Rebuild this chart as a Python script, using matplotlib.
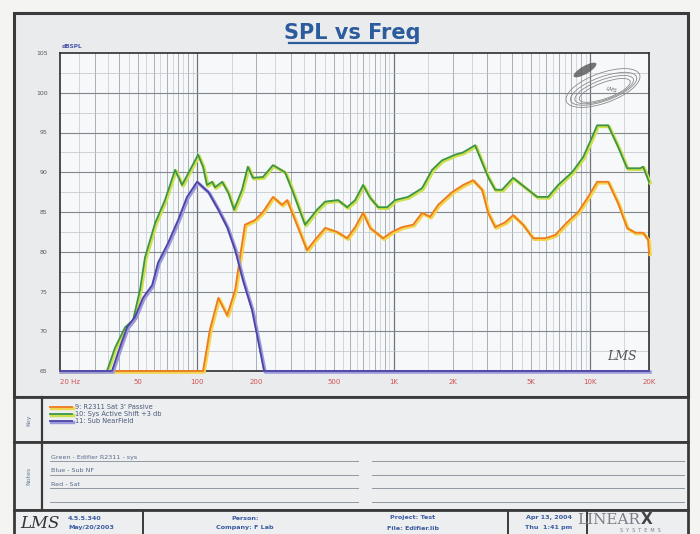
import numpy as np
import matplotlib.pyplot as plt
import matplotlib.patheffects as pe
from matplotlib.patches import Rectangle, Ellipse

# ---- data (Hz, dBSPL) ----
sat_freq = [20, 107, 116, 128, 142, 156, 165, 175, 197, 216, 243, 270, 287, 322, 362,
            398, 448, 515, 580, 637, 699, 759, 884, 982, 1105, 1257, 1397, 1534, 1686,
            1986, 2260, 2540, 2824, 3030, 3289, 3698, 4062, 4567, 5136, 5911, 6648,
            7651, 8708, 9790, 10880, 12380, 13920, 15470, 16990, 18660, 19790, 20000]
sat_db = [65, 65, 70.2, 74.2, 72.0, 75.2, 79.3, 83.4, 84.0, 85.0, 86.9, 85.9, 86.5, 83.4,
          80.2, 81.5, 83.0, 82.5, 81.7, 83.1, 84.9, 83.0, 81.7, 82.5, 83.1, 83.4, 84.9,
          84.4, 85.9, 87.5, 88.4, 89.0, 87.8, 84.9, 83.1, 83.7, 84.6, 83.4, 81.7, 81.7,
          82.1, 83.7, 85.0, 86.9, 88.8, 88.8, 86.1, 83.0, 82.4, 82.4, 81.5, 79.8]

sys_freq = [20, 34.7, 38.1, 42.9, 47.1, 51.1, 54.2, 61.0, 68.5, 77.1, 83.7, 91.9, 101,
            107, 112, 119, 123, 134, 144, 154, 169, 181, 192, 216, 243, 280, 304, 354,
            408, 448, 521, 580, 637, 699, 759, 834, 927, 1018, 1185, 1397, 1571, 1766,
            2057, 2260, 2601, 3030, 3289, 3570, 4062, 4675, 5383, 6124, 6887, 8117,
            9234, 10260, 10880, 12380, 13920, 15470, 18020, 18660, 20000]
sys_db = [65, 65, 67.9, 70.5, 71.4, 75.2, 79.3, 83.6, 86.5, 90.3, 88.4, 90.3, 92.2,
          90.7, 88.4, 88.8, 88.1, 88.8, 87.4, 85.3, 87.8, 90.7, 89.3, 89.4, 90.9, 90.0,
          87.8, 83.4, 85.3, 86.3, 86.5, 85.6, 86.5, 88.4, 86.8, 85.6, 85.6, 86.5, 86.9,
          88.0, 90.3, 91.5, 92.2, 92.5, 93.4, 89.4, 87.8, 87.8, 89.3, 88.1, 86.9, 86.9,
          88.4, 90.0, 91.9, 94.4, 95.9, 95.9, 93.2, 90.5, 90.5, 90.7, 88.8]

sub_freq = [20, 36.8, 39.5, 43.9, 48.2, 52.9, 58.9, 63.1, 71.0, 79.9, 88.7, 99.8, 114,
            128, 142, 156, 171, 190, 204, 219, 20000]
sub_db = [65, 65, 67.3, 70.5, 71.8, 74.2, 75.8, 78.6, 81.1, 84.0, 86.9, 88.8, 87.5,
          85.3, 83.1, 80.2, 76.4, 72.7, 68.9, 65, 65]

series = [
    ("9: R2311 Sat 3' Passive", sat_freq, sat_db, '#ee7a22', '#f2d54c'),
    ("10: Sys Active Shift +3 db", sys_freq, sys_db, '#3c9548', '#cfe04e'),
    ("11: Sub NearField", sub_freq, sub_db, '#4d45a6', '#9c98dc'),
]

x_ticks = [20, 50, 100, 200, 500, 1000, 2000, 5000, 10000, 20000]
x_labels = ['20 Hz', '50', '100', '200', '500', '1K', '2K', '5K', '10K', '20K']
y_ticks = [65, 70, 75, 80, 85, 90, 95, 100, 105]

notes = ['Green - Edifier R2311 - sys', 'Blue - Sub NF', 'Red - Sat']

W, H = 700, 534
fig = plt.figure(figsize=(W / 100, H / 100), dpi=100, facecolor='#f4f4f2')

# background / frame layer in pixel coordinates
bg = fig.add_axes([0, 0, 1, 1], zorder=0)
bg.set_xlim(0, W)
bg.set_ylim(H, 0)
bg.axis('off')
frame = '#3a3a3a'
bg.add_patch(Rectangle((14, 13), 674, 384, facecolor='#e9ebed', edgecolor=frame, lw=2.2))
bg.add_patch(Rectangle((14, 397), 674, 45, facecolor='#eceef0', edgecolor=frame, lw=2.0))
bg.add_patch(Rectangle((14, 442), 674, 68, facecolor='#eceef0', edgecolor=frame, lw=2.0))
bg.add_patch(Rectangle((14, 510), 674, 30, facecolor='#eceef0', edgecolor=frame, lw=2.0))
bg.plot([42, 42], [397, 510], color=frame, lw=1.6)
for xd in (143, 508, 587):
    bg.plot([xd, xd], [510, 534], color=frame, lw=1.4)
bg.text(29, 420, 'Key', rotation=90, ha='center', va='center', fontsize=4.5, color='#6a7a9a')
bg.text(29, 476, 'Notes', rotation=90, ha='center', va='center', fontsize=4.5, color='#6a7a9a')

# notes lines and text
for i, yl in enumerate([461, 475, 488, 502]):
    bg.plot([50, 358], [yl, yl], color='#9098a2', lw=0.7)
    bg.plot([372, 684], [yl, yl], color='#9098a2', lw=0.7)
    if i < len(notes):
        bg.text(51, yl - 1.5, notes[i], fontsize=4.6, color='#5a6a8a', va='bottom')

# footer
blue_txt = '#3a5aa0'
bg.text(20, 524, 'LMS', fontsize=12, style='italic', family='DejaVu Serif', color='#333',
        va='center')
bg.text(68, 518, '4.5.5.340', fontsize=4.6, color=blue_txt, weight='bold', va='center')
bg.text(68, 528, 'May/20/2003', fontsize=4.6, color=blue_txt, weight='bold', va='center')
bg.text(245, 518, 'Person:', fontsize=4.6, color=blue_txt, weight='bold', ha='center', va='center')
bg.text(245, 528, 'Company: F Lab', fontsize=4.6, color=blue_txt, weight='bold', ha='center', va='center')
bg.text(413, 518, 'Project: Test', fontsize=4.6, color=blue_txt, weight='bold', ha='center', va='center')
bg.text(413, 528, 'File: Edifier.lib', fontsize=4.6, color=blue_txt, weight='bold', ha='center', va='center')
bg.text(549, 518, 'Apr 13, 2004', fontsize=4.6, color=blue_txt, weight='bold', ha='center', va='center')
bg.text(549, 528, 'Thu  1:41 pm', fontsize=4.6, color=blue_txt, weight='bold', ha='center', va='center')
bg.text(640, 520, 'LINEAR', fontsize=11, family='DejaVu Serif', color='#7a7e86', ha='right', va='center')
bg.text(641, 520, 'X', fontsize=11, family='DejaVu Sans', weight='bold', color='#444', ha='left', va='center')
bg.text(640, 531, 'S  Y  S  T  E  M  S', fontsize=3.5, color='#7a7e86', ha='center', va='center')

# title with underline
bg.text(352, 33, 'SPL vs Freq', fontsize=15, weight='bold', color='#2c5c9c',
        ha='center', va='center')
bg.plot([289, 416], [43, 43], color='#2c5c9c', lw=1.6)
bg.text(62, 47, 'dBSPL', fontsize=4.2, color='#4a5aa8', weight='bold', va='center')

# ---- main plot ----
ax = fig.add_axes([60 / W, 1 - 371 / H, 589 / W, 318 / H], zorder=1)
ax.set_facecolor('#f7f8f9')
ax.set_xscale('log')
ax.set_xlim(20, 20000)
ax.set_ylim(65, 105)

for dec in (10, 100, 1000, 10000):
    for m in np.arange(1.0, 10.0, 0.5):
        f = dec * m
        if f <= 20 or f >= 20000:
            continue
        if m == 1.0:
            ax.axvline(f, color='#6e757d', lw=0.9, zorder=1)
        elif m == int(m):
            ax.axvline(f, color='#9ca4ac', lw=0.6, zorder=1)
        else:
            ax.axvline(f, color='#c4cad0', lw=0.5, zorder=1)
for v in np.arange(65, 105, 2.5):
    if v % 5 == 0:
        ax.axhline(v, color='#80878f', lw=0.8, zorder=1)
    else:
        ax.axhline(v, color='#bcc3c9', lw=0.5, zorder=1)

handles = []
for label, fr, db, col, halo in series:
    ln, = ax.plot(fr, db, color=col, lw=1.3, label=label, zorder=3, clip_on=False,
                  path_effects=[pe.Stroke(offset=(0.8, -0.8), linewidth=2.4, foreground=halo),
                                pe.Normal()])
    handles.append(ln)

ax.set_xticks(x_ticks)
ax.set_xticklabels(x_labels)
ax.minorticks_off()
ax.set_yticks(y_ticks)
ax.set_yticklabels([str(v) for v in y_ticks])
ax.tick_params(axis='x', length=0, pad=6, labelsize=5, labelcolor='#d05454')
ax.tick_params(axis='y', length=0, pad=9, labelsize=4.5, labelcolor='#555a60')
ax.get_xticklabels()[0].set_ha('left')
for s in ax.spines.values():
    s.set_color('#2e2e2e')
    s.set_linewidth(1.2)

# overlay: logo sketch and handwriting
ov = fig.add_axes([0, 0, 1, 1], zorder=4)
ov.set_xlim(0, W)
ov.set_ylim(H, 0)
ov.axis('off')
for w_, h_, dx, dy in [(78, 30, 0, 0), (70, 24, 2, 2), (62, 20, 4, 4), (54, 16, 6, 6)]:
    ov.add_patch(Ellipse((603 + dx * 0.3, 88 + dy * 0.4), w_, h_, angle=-20, fill=False,
                         edgecolor='#8a8a8a', lw=0.6))
ov.add_patch(Ellipse((585, 70), 26, 8, angle=-30, facecolor='#555', edgecolor='none', alpha=0.8))
ov.text(612, 90, 'LMS', fontsize=4, style='italic', color='#666', rotation=-15,
        ha='center', va='center')
ov.text(622, 357, 'LMS', fontsize=9, style='italic', family='DejaVu Serif',
        color='#555', ha='center', va='center')

fig.legend(handles=handles, loc='upper left', bbox_to_anchor=(47 / W, 1 - 401 / H),
           frameon=False, fontsize=4.8, handlelength=3.2, handletextpad=0.5,
           labelspacing=0.15, borderpad=0, labelcolor='#4a5a7a')

fig.savefig('out.png', dpi=100, facecolor=fig.get_facecolor())
